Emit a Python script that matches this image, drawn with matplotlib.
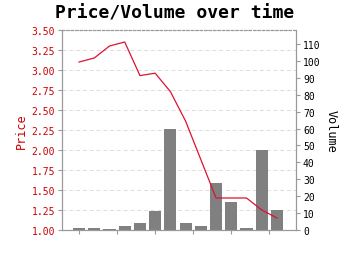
import matplotlib
matplotlib.use("Agg")
import matplotlib.pyplot as plt
import matplotlib.transforms as mtransforms
import numpy as np

price = [3.10, 3.15, 3.30, 3.35, 2.93, 2.96, 2.73, 2.36, 1.88, 1.40, 1.40, 1.40, 1.25, 1.15]
volume = [1, 1, 0.5, 2.5, 4.3, 11.2, 60, 4, 2.4, 28, 16.7, 1, 47.3, 11.8]
price_ticks = [1.00, 1.25, 1.50, 1.75, 2.00, 2.25, 2.50, 2.75, 3.00, 3.25, 3.50]
volume_ticks = [0, 10, 20, 30, 40, 50, 60, 70, 80, 90, 100, 110]
x_ticks = [0, 2.5, 5, 7.5, 10, 12.5]

mono = "DejaVu Sans Mono"
red = "#cc0000"
grey = "#999999"

fig = plt.figure(figsize=(3.5, 2.55), dpi=100)
ax = fig.add_axes([62/350, 1-231/255, (296-62)/350, 200/255])
ax2 = ax.twinx()
x = np.arange(len(price))

ax2.bar(x, volume, width=0.8, color="#808080", zorder=2)
ax2.set_ylim(0, 118.3)
ax2.set_yticks(volume_ticks)
ax2.set_yticklabels([str(v) for v in volume_ticks], fontfamily=mono, fontsize=7, color="black")
ax2.tick_params(axis="y", colors=grey, labelcolor="black", length=3, width=0.8, pad=2)
ax2.set_ylabel("Volume", fontfamily=mono, fontsize=8.5, rotation=270, labelpad=12, color="black")

ax.set_zorder(ax2.get_zorder() + 1)
ax.patch.set_visible(False)
ax.plot(x, price, color="#dd1133", linewidth=0.9, zorder=3)
ax.set_ylim(1.0, 3.5)
ax.set_xlim(-1.12, 14.25)
ax.set_yticks(price_ticks)
ax.set_yticklabels([f"{v:.2f}" for v in price_ticks], fontfamily=mono, fontsize=7, color=red)
ax.tick_params(axis="y", colors=grey, labelcolor=red, length=3, width=0.8, pad=2)
ax.set_ylabel("Price", fontfamily=mono, fontsize=8.5, color=red, labelpad=3)
ax.set_xticks(x_ticks)
ax.set_xticklabels([""] * len(x_ticks))
ax.tick_params(axis="x", colors=grey, length=3, width=0.8)

# grid behind the bars (drawn on the bar axes, in price coordinates)
trans = mtransforms.blended_transform_factory(ax2.transAxes, ax.transData)
ax2.hlines(price_ticks[1:], 0, 1, transform=trans, colors="#dddddd",
           linestyles=(0, (4, 3)), linewidth=0.7, zorder=1)

for a in (ax, ax2):
    for s in a.spines.values():
        s.set_color(grey)
        s.set_linewidth(0.8)
    a.spines["top"].set_linestyle((0, (2, 2)))

fig.text(175/350, 1-14/255, "Price/Volume over time", ha="center", va="center",
         fontfamily=mono, fontweight="bold", fontsize=13)

fig.savefig("out.png", dpi=100)
